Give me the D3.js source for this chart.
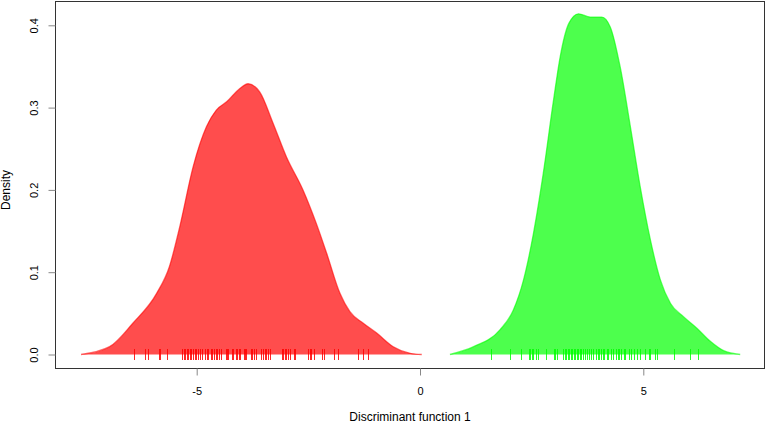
<!DOCTYPE html>
<html><head><meta charset="utf-8">
<script src="https://cdn.jsdelivr.net/npm/d3@7"></script>
<style>html,body{margin:0;padding:0;background:#fff}svg{display:block}text{font-family:"Liberation Sans",Arial,sans-serif;fill:#000}</style>
</head><body>
<script>
// Density curve of group 1 (red): x positions and density values
const redX = [-7.59,-6.95,-6.43,-5.90,-5.61,-5.38,-5.08,-4.78,-4.56,-4.33,-4.04,-3.85,-3.59,-3.29,-2.99,-2.62,-2.32,-2.09,-1.79,-1.57,-1.27,-0.97,-0.60,-0.22,0.04];
const redD = [0,0.0095,0.038,0.074,0.107,0.155,0.228,0.277,0.297,0.307,0.323,0.329,0.319,0.281,0.240,0.200,0.159,0.123,0.074,0.052,0.038,0.026,0.0095,0.0015,0];
// Density curve of group 2 (green)
const greenX = [0.67,1.20,1.79,2.09,2.32,2.54,2.76,2.99,3.14,3.33,3.55,3.81,4.07,4.26,4.48,4.71,4.93,5.16,5.38,5.61,5.90,6.20,6.50,6.80,7.17];
const greenD = [0,0.0095,0.030,0.054,0.091,0.147,0.220,0.309,0.362,0.402,0.414,0.410,0.410,0.398,0.350,0.277,0.204,0.139,0.091,0.062,0.046,0.032,0.016,0.0046,0];
// Rug (individual discriminant scores)
const redRug = [-6.41,-6.15,-6.09,-5.84,-5.82,-5.66,-5.33,-5.29,-5.26,-5.22,-5.19,-5.15,-5.12,-5.08,-5.04,-5.01,-4.97,-4.93,-4.88,-4.81,-4.78,-4.75,-4.69,-4.65,-4.61,-4.57,-4.54,-4.49,-4.46,-4.35,-4.32,-4.30,-4.21,-4.18,-4.13,-4.09,-4.06,-4.03,-3.95,-3.92,-3.89,-3.79,-3.76,-3.72,-3.68,-3.55,-3.51,-3.48,-3.44,-3.40,-3.36,-3.10,-3.07,-3.03,-2.99,-2.95,-2.91,-2.83,-2.80,-2.50,-2.47,-2.44,-2.38,-2.20,-2.15,-1.93,-1.83,-1.38,-1.27,-1.17];
const greenRug = [1.59,2.02,2.26,2.43,2.47,2.50,2.54,2.59,2.65,2.82,2.99,3.03,3.07,3.21,3.24,3.27,3.31,3.34,3.37,3.41,3.44,3.48,3.51,3.54,3.58,3.61,3.65,3.70,3.74,3.79,3.83,3.88,3.95,3.98,4.01,4.06,4.09,4.13,4.19,4.22,4.28,4.33,4.39,4.43,4.46,4.51,4.56,4.60,4.67,4.73,4.80,4.86,4.93,5.03,5.12,5.16,5.27,5.31,5.68,6.05,6.23];
const xTicks = [-5,0,5];
const yTicks = [0,0.1,0.2,0.3,0.4];
const xLabel = "Discriminant function 1";
const yLabel = "Density";

const W = 767, H = 423;
const svg = d3.select("body").append("svg").attr("width", W).attr("height", H);
const box = {l:55, r:765, t:1, b:368};
const x = d3.scaleLinear().domain([0,5]).range([420, 643.3]);
const y = d3.scaleLinear().domain([0,0.4]).range([354.5, 25.3]);

const area = d3.area().x(d=>x(d[0])).y0(y(0)).y1(d=>y(d[1])).curve(d3.curveMonotoneX);
const line = d3.line().x(d=>x(d[0])).y(d=>y(d[1])).curve(d3.curveMonotoneX);

function drawGroup(xs, ds, rug, col, fill){
  const pts = xs.map((v,i)=>[v, ds[i]]);
  svg.append("path").attr("d", area(pts)).attr("fill", fill);
  svg.append("path").attr("d", line(pts)).attr("fill","none").attr("stroke", col).attr("stroke-opacity",0.6).attr("stroke-width",1.3);
  svg.append("g").selectAll("line").data(rug).join("line")
    .attr("x1", d=>Math.round(x(d))+0.5).attr("x2", d=>Math.round(x(d))+0.5)
    .attr("y1", y(0)-5.5).attr("y2", y(0)+5.5)
    .attr("stroke", col).attr("stroke-opacity",0.85).attr("stroke-width",1);
}
drawGroup(redX, redD, redRug, "#ff0000", "rgb(255,77,77)");
drawGroup(greenX, greenD, greenRug, "#00ff00", "rgb(77,255,77)");

// box
svg.append("rect").attr("x", box.l+0.5).attr("y", box.t+0.5).attr("width", box.r-box.l-1).attr("height", box.b-box.t)
  .attr("fill","none").attr("stroke","#333").attr("stroke-width",1);

// x axis
const xa = svg.append("g").attr("transform", `translate(0,${box.b+0.5})`)
  .call(d3.axisBottom(x).tickValues(xTicks).tickSize(7).tickPadding(12).tickFormat(d=>String(d)));
xa.select(".domain").remove();
xa.selectAll(".tick line").attr("stroke","#888");
xa.selectAll("text").attr("font-size",11).style("font-family","Liberation Sans, Arial, sans-serif");

// y axis
const ya = svg.append("g").attr("transform", `translate(${box.l+0.5},0)`)
  .call(d3.axisLeft(y).tickValues(yTicks).tickSize(7).tickFormat(d=>d.toFixed(1)));
ya.select(".domain").remove();
ya.selectAll(".tick line").attr("stroke","#888");
ya.selectAll(".tick text").attr("font-size",11).style("font-family","Liberation Sans, Arial, sans-serif")
  .attr("x",null).attr("dy",null).attr("text-anchor","middle")
  .attr("transform","translate(-18,0) rotate(-90)");

svg.append("text").attr("x", 410).attr("y", 421).attr("text-anchor","middle").attr("font-size",12).text(xLabel);
svg.append("text").attr("transform","translate(10,190) rotate(-90)").attr("text-anchor","middle").attr("font-size",12).text(yLabel);
</script>
</body></html>
